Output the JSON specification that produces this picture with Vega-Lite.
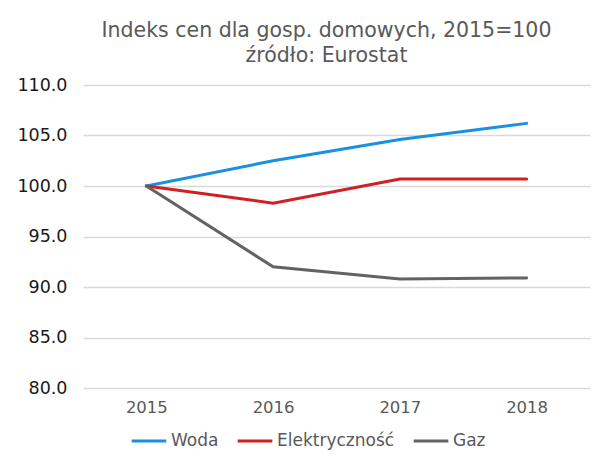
{
  "$schema": "https://vega.github.io/schema/vega-lite/v6.json",
  "width": 507,
  "height": 303,
  "autosize": {"type": "none"},
  "padding": {"left": 83, "top": 85, "right": 18, "bottom": 86},
  "background": "white",
  "title": {
    "text": ["Indeks cen dla gosp. domowych, 2015=100", "źródło: Eurostat"],
    "font": "DejaVu Sans",
    "fontSize": 20.5,
    "fontWeight": "normal",
    "color": "#595959",
    "anchor": "middle",
    "dx": -10,
    "offset": 10,
    "lineHeight": 25
  },
  "config": {
    "view": {"stroke": null},
    "font": "DejaVu Sans"
  },
  "data": {
    "values": [
      {"rok": "2015", "seria": "Woda", "wartosc": 100.0},
      {"rok": "2016", "seria": "Woda", "wartosc": 102.5},
      {"rok": "2017", "seria": "Woda", "wartosc": 104.6},
      {"rok": "2018", "seria": "Woda", "wartosc": 106.2},
      {"rok": "2015", "seria": "Elektryczność", "wartosc": 100.0},
      {"rok": "2016", "seria": "Elektryczność", "wartosc": 98.3},
      {"rok": "2017", "seria": "Elektryczność", "wartosc": 100.7},
      {"rok": "2018", "seria": "Elektryczność", "wartosc": 100.7},
      {"rok": "2015", "seria": "Gaz", "wartosc": 100.0},
      {"rok": "2016", "seria": "Gaz", "wartosc": 92.0},
      {"rok": "2017", "seria": "Gaz", "wartosc": 90.8},
      {"rok": "2018", "seria": "Gaz", "wartosc": 90.9}
    ]
  },
  "mark": {"type": "line", "strokeWidth": 3, "strokeCap": "round"},
  "encoding": {
    "x": {
      "field": "rok",
      "type": "ordinal",
      "scale": {"type": "point", "padding": 0.5},
      "axis": {
        "title": null,
        "labelAngle": 0,
        "labelFontSize": 16.5,
        "labelColor": "#595959",
        "labelPadding": 11,
        "domain": false,
        "ticks": false,
        "grid": false
      }
    },
    "y": {
      "field": "wartosc",
      "type": "quantitative",
      "scale": {"domain": [80, 110], "nice": false, "zero": false},
      "axis": {
        "title": null,
        "values": [80, 85, 90, 95, 100, 105, 110],
        "format": ".1f",
        "labelFontSize": 17.5,
        "labelColor": "#1a1a1a",
        "labelPadding": 16,
        "domain": false,
        "ticks": false,
        "grid": true,
        "gridColor": "#d9d9d9",
        "gridWidth": 1.3
      }
    },
    "color": {
      "field": "seria",
      "type": "nominal",
      "sort": ["Woda", "Elektryczność", "Gaz"],
      "scale": {
        "domain": ["Woda", "Elektryczność", "Gaz"],
        "range": ["#1b8fe0", "#d01f25", "#636363"]
      },
      "legend": {
        "title": null,
        "orient": "none",
        "legendX": 47,
        "legendY": 337,
        "direction": "horizontal",
        "symbolType": "stroke",
        "symbolStrokeWidth": 3,
        "symbolSize": 1200,
        "labelFontSize": 17,
        "labelColor": "#595959",
        "labelOffset": 3,
        "columnPadding": 12
      }
    }
  }
}
